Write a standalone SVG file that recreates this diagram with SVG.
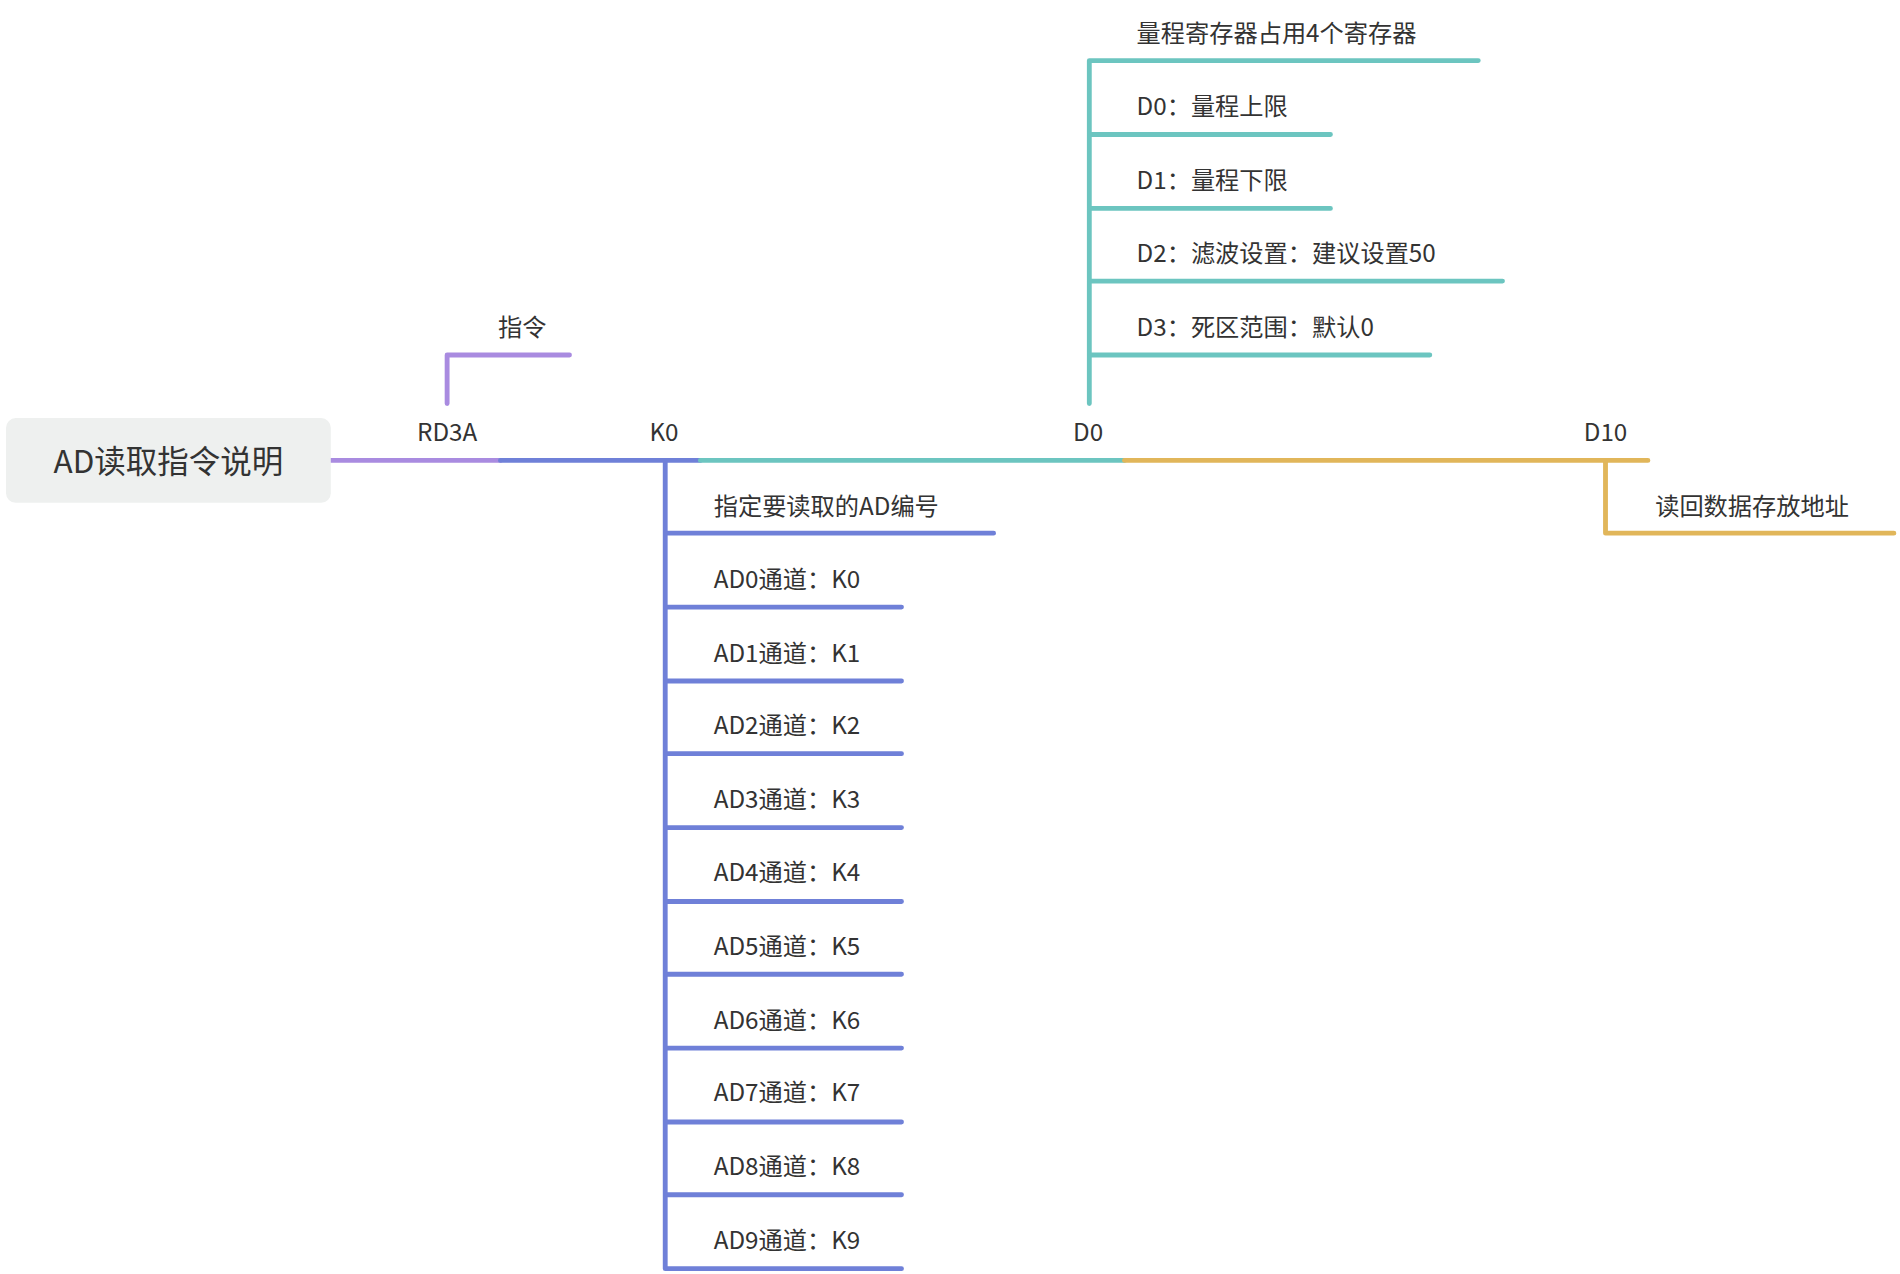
<svg xmlns="http://www.w3.org/2000/svg" width="1900" height="1274" viewBox="0 0 1900 1274">
<style>
text{font-family:"Noto Sans CJK SC","Noto Sans",sans-serif;font-size:20px;fill:#333}
.c{text-anchor:middle}
path{fill:none;stroke-width:4;stroke-linecap:round;stroke-linejoin:round}
.p{stroke:#a98be0}.b{stroke:#6f80d8}.t{stroke:#6cc5c0}.y{stroke:#e1b65a}
</style>
<rect width="1900" height="1274" fill="#fff"/>
<g transform="scale(1.2117)">
<g id="connectors">
<path class="p" d="M273 380H413M369 333V293H470"/>
<path class="b" d="M413 380H578M549 380V1047H744M549 440H820M549 501H744M549 562H744M549 622H744M549 683H744M549 744H744M549 804H744M549 865H744M549 926H744M549 986H744"/>
<path class="t" d="M578 380H928M899 333V50H1220M899 111H1098M899 172H1098M899 232H1240M899 293H1180"/>
<path class="y" d="M928 380H1360M1325 380V440H1563"/>
</g>
<g id="root"><rect x="5" y="345" width="268" height="70" rx="8" fill="#eef0ef"/><text x="139" y="390" class="c" style="font-size:26px">AD读取指令说明</text></g>
<g id="rd3a"><text x="369" y="364" class="c">RD3A</text></g>
<g id="zl"><text x="431" y="277" class="c">指令</text></g>
<g id="k0"><text x="548" y="364" class="c">K0</text></g>
<g id="k0c">
<text x="589" y="425">指定要读取的AD编号</text>
<text x="589" y="485">AD0通道：K0</text>
<text x="589" y="546">AD1通道：K1</text>
<text x="589" y="606">AD2通道：K2</text>
<text x="589" y="667">AD3通道：K3</text>
<text x="589" y="727">AD4通道：K4</text>
<text x="589" y="788">AD5通道：K5</text>
<text x="589" y="849">AD6通道：K6</text>
<text x="589" y="909">AD7通道：K7</text>
<text x="589" y="970">AD8通道：K8</text>
<text x="589" y="1031">AD9通道：K9</text>
</g>
<g id="d0"><text x="898" y="364" class="c">D0</text></g>
<g id="d0c">
<text x="938" y="35">量程寄存器占用4个寄存器</text>
<text x="938" y="95">D0：量程上限</text>
<text x="938" y="156">D1：量程下限</text>
<text x="938" y="216">D2：滤波设置：建议设置50</text>
<text x="938" y="277">D3：死区范围：默认0</text>
</g>
<g id="d10"><text x="1325" y="364" class="c">D10</text></g>
<g id="d10c"><text x="1366" y="425">读回数据存放地址</text></g>
</g>
</svg>
